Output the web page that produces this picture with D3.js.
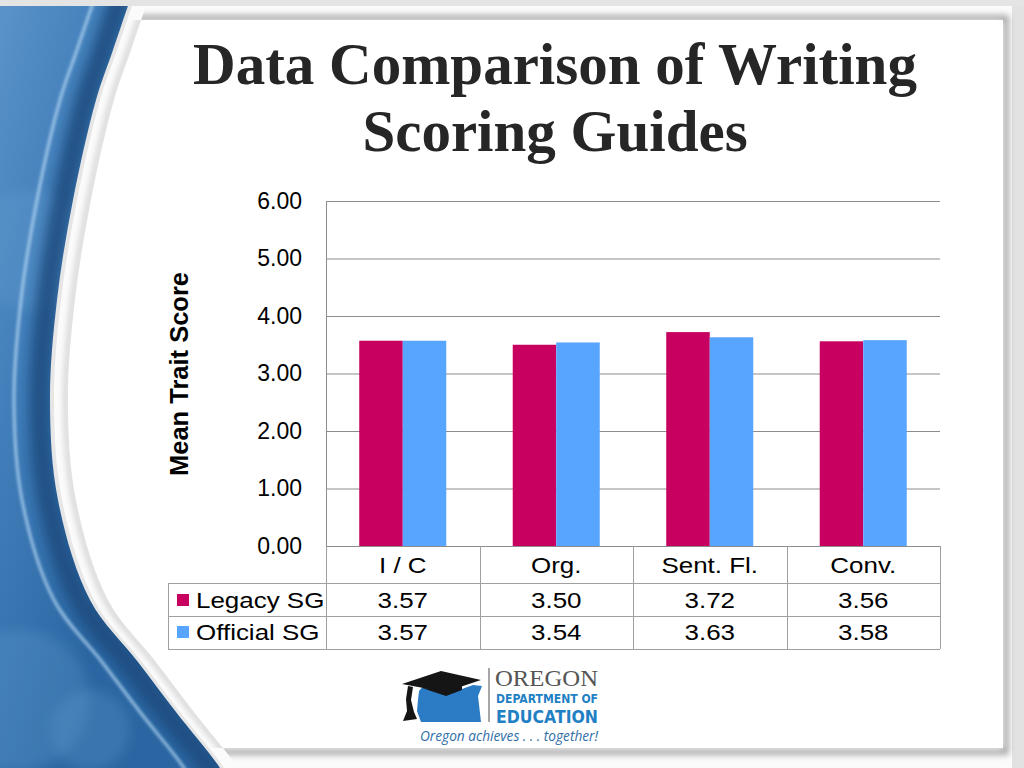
<!DOCTYPE html>
<html><head><meta charset="utf-8">
<script src="https://cdn.jsdelivr.net/npm/d3@7"></script>
<style>html,body{margin:0;padding:0;background:#fff;overflow:hidden}</style>
</head><body><svg id="c" width="1024" height="768"></svg>
<script>
// ---------- DATA ----------
const categories = ["I / C", "Org.", "Sent. Fl.", "Conv."];
const seriesNames = ["Legacy SG", "Official SG"];
const legacyValues = [3.57, 3.50, 3.72, 3.56];
const officialValues = [3.57, 3.54, 3.63, 3.58];
const yTicks = [0, 1, 2, 3, 4, 5, 6];
const titleLines = ["Data Comparison of Writing", "Scoring Guides"];
const yTitle = "Mean Trait Score";
const seriesColors = ["#C8005F", "#58A5FF"];
const seriesValues = [legacyValues, officialValues];

// ---------- SETUP ----------
const svg = d3.select("#c");
const defs = svg.append("defs");
const W = 1024, H = 768;

const g1 = defs.append("linearGradient").attr("id", "bgBlue")
  .attr("x1", 0).attr("y1", 0).attr("x2", 1).attr("y2", 0.2);
g1.append("stop").attr("offset", 0).attr("stop-color", "#5b93c9");
g1.append("stop").attr("offset", 0.12).attr("stop-color", "#3f7cb8");
g1.append("stop").attr("offset", 0.25).attr("stop-color", "#2b66a2");
g1.append("stop").attr("offset", 1).attr("stop-color", "#2b66a2");
defs.append("filter").attr("id", "blur6").attr("x", -0.5).attr("y", -0.5).attr("width", 2).attr("height", 2)
  .append("feGaussianBlur").attr("stdDeviation", 6);
defs.append("filter").attr("id", "blur2").attr("x", -0.5).attr("y", -0.5).attr("width", 2).attr("height", 2)
  .append("feGaussianBlur").attr("stdDeviation", 1.8);
defs.append("filter").attr("id", "blur3").attr("x", -0.2).attr("y", -0.2).attr("width", 1.4).attr("height", 1.4)
  .append("feGaussianBlur").attr("stdDeviation", 3);

svg.append("rect").attr("width", W).attr("height", H).attr("fill", "url(#bgBlue)");

const edge = [[134,-12],[113,50],[96,100],[73,200],[57,300],[50,400],[58,500],[90,600],[138,662],[176,712],[220,768],[232,790]];
const lineGen = d3.line().curve(d3.curveCatmullRom);
const shift = (pts, dx) => pts.map(p => [p[0] + dx, p[1]]);
const region = (pts) => lineGen(pts) + "L1200,790L1200,-12Z";

[[30,250,60],[20,700,70],[90,730,40]].forEach(b => {
  svg.append("circle").attr("cx", b[0]).attr("cy", b[1]).attr("r", b[2])
    .attr("fill", "#6aa3d6").attr("opacity", 0.25).attr("filter", "url(#blur6)");
});
svg.append("path").attr("d", lineGen(shift(edge, -10))).attr("fill", "none")
  .attr("stroke", "#1a4b7e").attr("stroke-width", 22).attr("opacity", 0.85).attr("filter", "url(#blur6)");
svg.append("path").attr("d", lineGen(shift(edge, -36))).attr("fill", "none")
  .attr("stroke", "#b9dcf6").attr("stroke-width", 3).attr("opacity", 0.75).attr("filter", "url(#blur2)");

// frame
svg.append("path").attr("d", region(edge)).attr("fill", "#e6e6e6");
svg.append("path").attr("d", region(shift(edge, 4))).attr("fill", "#fbfbfb");
svg.append("rect").attr("x", 1012).attr("y", 0).attr("width", 12).attr("height", H).attr("fill", "#e2e2e2");
svg.append("rect").attr("x", 0).attr("y", 0).attr("width", W).attr("height", 6).attr("fill", "#e4e4e4");

// panel
defs.append("clipPath").attr("id", "panelClip").append("path").attr("d", region(shift(edge, 18)));
defs.append("clipPath").attr("id", "topBot").append("rect").attr("x", 0).attr("y", 20).attr("width", 1004).attr("height", 728);
const pg = svg.append("g").attr("clip-path", "url(#panelClip)");
pg.append("rect").attr("x", -20).attr("y", 18).attr("width", 1026).attr("height", 734)
  .attr("fill", "none").attr("stroke", "#9a9a9a").attr("stroke-width", 5).attr("filter", "url(#blur3)");
svg.append("path").attr("d", region(shift(edge, 16))).attr("fill", "none")
  .attr("stroke", "#c4c4c4").attr("stroke-width", 4).attr("filter", "url(#blur3)")
  .attr("clip-path", "url(#topBot)");
const pg2 = svg.append("g").attr("clip-path", "url(#panelClip)");
pg2.append("rect").attr("x", -20).attr("y", 20).attr("width", 1023).attr("height", 728).attr("fill", "#ffffff");

// ---------- TITLE ----------
titleLines.forEach((t, i) => {
  svg.append("text").attr("x", 555).attr("y", i === 0 ? 84 : 151)
    .attr("text-anchor", "middle").attr("font-family", "'Liberation Serif', 'Times New Roman', serif")
    .attr("font-weight", "bold").attr("font-size", 59).attr("fill", "#262626").text(t);
});

// ---------- CHART ----------
const plot = { left: 326, right: 940, top: 201, bottom: 546 };
const x = d3.scaleBand().domain(categories).range([plot.left, plot.right]);
const xs = d3.scaleBand().domain(seriesNames).range([0, x.bandwidth()]).paddingInner(0).paddingOuter(0.764);
const y = d3.scaleLinear().domain([0, 6]).range([plot.bottom, plot.top]);

const gridColor = "#8c8c8c";
const tFont = "'Liberation Sans', Arial, sans-serif";
const axis = d3.axisLeft(y).tickValues(yTicks).tickFormat(d3.format(".2f"))
  .tickSizeInner(-(plot.right - plot.left)).tickSizeOuter(0).tickPadding(24);
const ga = svg.append("g").attr("transform", `translate(${plot.left},0)`).call(axis);
ga.select(".domain").attr("stroke", gridColor);
ga.selectAll(".tick line").attr("stroke", gridColor);
ga.selectAll(".tick text").attr("font-family", tFont).attr("font-size", 23).attr("fill", "#000");

// bars
categories.forEach((c, ci) => {
  seriesNames.forEach((s, si) => {
    const v = seriesValues[si][ci];
    svg.append("rect")
      .attr("x", x(c) + xs(s)).attr("y", y(v))
      .attr("width", xs.bandwidth()).attr("height", y(0) - y(v))
      .attr("fill", seriesColors[si]);
  });
});

// y title
svg.append("text").attr("transform", "translate(188,374) rotate(-90)")
  .attr("text-anchor", "middle").attr("font-family", tFont)
  .attr("font-weight", "bold").attr("font-size", 25.5).attr("fill", "#000").text(yTitle);

// data table
const rowTops = [546, 583, 616, 649];
const legendLeft = 168;
const tbl = svg.append("g").attr("stroke", "#a0a0a0").attr("stroke-width", 1).attr("shape-rendering", "crispEdges");
[rowTops[1], rowTops[2], rowTops[3]].forEach(yy => {
  tbl.append("line").attr("x1", legendLeft).attr("x2", plot.right).attr("y1", yy + 0.5).attr("y2", yy + 0.5);
});
tbl.append("line").attr("x1", legendLeft + 0.5).attr("x2", legendLeft + 0.5).attr("y1", rowTops[1]).attr("y2", rowTops[3]);
categories.map(c => x(c)).concat([plot.right]).forEach(xx => {
  tbl.append("line").attr("x1", Math.round(xx) + 0.5).attr("x2", Math.round(xx) + 0.5)
    .attr("y1", rowTops[0]).attr("y2", rowTops[3]);
});
const sx = 1.18;
const tableText = (px, py, anchor, str) => svg.append("text")
  .attr("transform", `translate(${px},${py}) scale(${sx},1)`)
  .attr("text-anchor", anchor).attr("font-family", tFont).attr("font-size", 22).attr("fill", "#000").text(str);
categories.forEach((c, ci) => {
  const cx = x(c) + x.bandwidth() / 2;
  tableText(cx, 573, "middle", c);
  seriesNames.forEach((s, si) => {
    tableText(cx, si === 0 ? 608 : 640, "middle", d3.format(".2f")(seriesValues[si][ci]));
  });
});
seriesNames.forEach((s, si) => {
  const yy = si === 0 ? 600 : 632;
  svg.append("rect").attr("x", 177).attr("y", yy - 6).attr("width", 12).attr("height", 12).attr("fill", seriesColors[si]);
  tableText(196, yy + 8, "start", s);
});

// ---------- LOGO ----------
const logo = svg.append("g");
logo.append("path").attr("d", "M419,691 L425,684 L437,687 L449,686 L462,689 L473,685 L482,686 L478,696 L481,722 L421,722 L417,711 L418,700 Z")
  .attr("fill", "#2b7bc5");
logo.append("path").attr("d", "M402,684 L441,671 L481,680 L445,692 Z").attr("fill", "#151515");
logo.append("path").attr("d", "M422,688 L446,696 L462,690 L462,684 L444,690 Z").attr("fill", "#151515");
logo.append("path").attr("d", "M408,686 L413,687 L411,700 L414,712 L417,719 L403,721 L407,711 L406,699 Z").attr("fill", "#151515");
logo.append("line").attr("x1", 489).attr("x2", 489).attr("y1", 668).attr("y2", 722).attr("stroke", "#8a8a8a").attr("stroke-width", 1.5);
logo.append("text").attr("x", 495).attr("y", 686).attr("font-family", "'Liberation Serif', serif").attr("font-size", 23)
  .attr("fill", "#555").attr("textLength", 103).attr("lengthAdjust", "spacingAndGlyphs").text("OREGON");
logo.append("text").attr("x", 496).attr("y", 703).attr("font-family", "'DejaVu Sans', sans-serif").attr("font-weight", "bold")
  .attr("font-size", 12).attr("fill", "#1f80c4").attr("textLength", 102).attr("lengthAdjust", "spacingAndGlyphs").text("DEPARTMENT OF");
logo.append("text").attr("x", 496).attr("y", 723).attr("font-family", "'DejaVu Sans', sans-serif").attr("font-weight", "bold")
  .attr("font-size", 17).attr("fill", "#1f80c4").attr("textLength", 102).attr("lengthAdjust", "spacingAndGlyphs").text("EDUCATION");
logo.append("text").attr("x", 420).attr("y", 741).attr("font-family", "'Open Sans', sans-serif").attr("font-style", "italic")
  .attr("font-size", 14.5).attr("fill", "#2f6ea8").attr("textLength", 178).attr("lengthAdjust", "spacingAndGlyphs").text("Oregon achieves . . . together!");
</script>
</body></html>
